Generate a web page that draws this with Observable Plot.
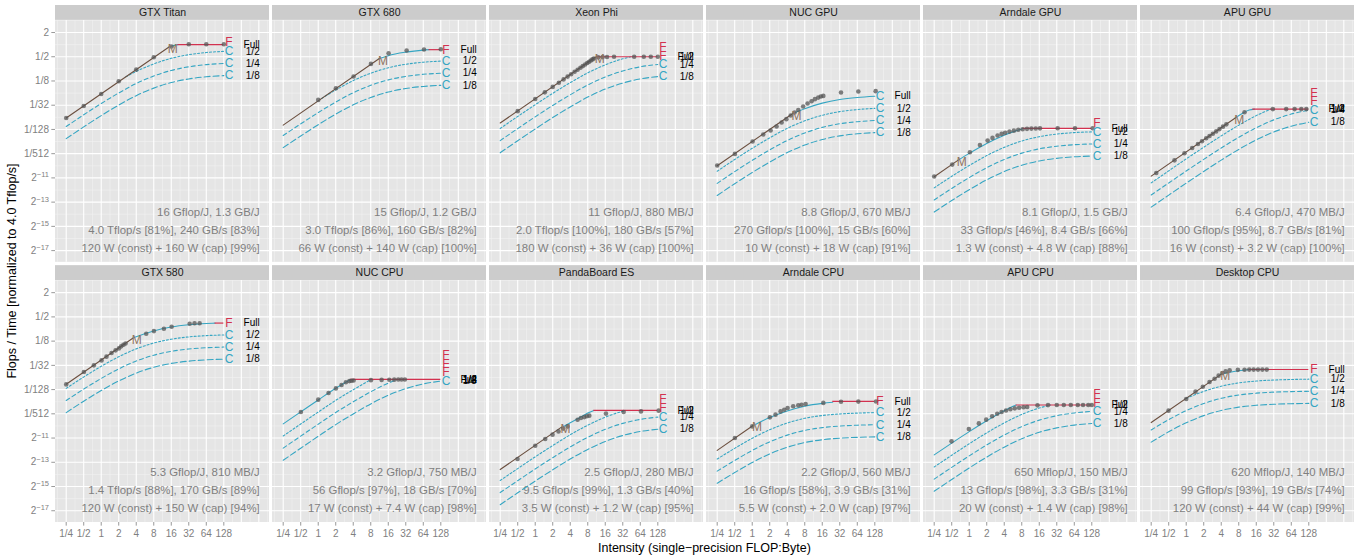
<!DOCTYPE html>
<html><head><meta charset="utf-8">
<script src="https://cdn.jsdelivr.net/npm/d3@7"></script>
<script src="https://cdn.jsdelivr.net/npm/@observablehq/plot@0.6"></script>
<style>
html,body{margin:0;padding:0;background:#fff;}
#chart{width:1357px;height:558px;}
</style></head><body><div id="chart"></div>
<script>
// ---------------- data ----------------
const platforms = ["GTX Titan","GTX 680","Xeon Phi","NUC GPU","Arndale GPU","APU GPU",
                   "GTX 580","NUC CPU","PandaBoard ES","Arndale CPU","APU CPU","Desktop CPU"];
const capLevels = ["Full","1/2","1/4","1/8"];
const xTickValues = [-2,-1,0,1,2,3,4,5,6,7];           // log2 intensity
const xTickLabels = ["1/4","1/2","1","2","4","8","16","32","64","128"];
const yTickValues = [1,-1,-3,-5,-7,-9,-11,-13,-15,-17]; // log2 normalized perf
const yTickLabels = ["2","1/2","1/8","1/32","1/128","1/512","2\u207B\u00B9\u00B9","2\u207B\u00B9\u00B3","2\u207B\u00B9\u2075","2\u207B\u00B9\u2077"];

// log2 of peak (normalized to 4.0 Tflop/s) and roofline level at intensity 1
const peakLog2      = [0,-0.415,-1,-3.89,-6.92,-5.32,-1.51,-6.16,-8.72,-7.97,-8.27,-5.34];
const bandwidthLog2 = [-4.06,-4.64,-4.47,-8.0,-8.9,-8.85,-4.56,-7.8,-11.6,-10.02,-10.24,-7.72];
// where the full-power curve leaves the memory roof / reaches the flop roof (log2 intensity)
const memoryEnd = [3.85,3.47,3.45,2.3,-0.65,2.8,1.8,null,1.5,0.05,null,2.0];
const flopStart = [4.38,6.33,3.5,null,3.07,3.8,6.5,1.84,3.35,4.6,2.68,3.6];

// power-capped (cyan) segments, [log2 intensity, log2 perf]
const capFull = [
 [[3.85,-0.21],[4.1,-0.09],[4.38,0]],
 [[3.47,-1.17],[4,-0.91],[5,-0.62],[6,-0.45],[6.33,-0.415]],
 [],
 [[2.3,-5.7],[3,-5.29],[4,-4.83],[5,-4.53],[6,-4.36],[7,-4.26]],
 [[-0.65,-9.55],[0,-8.975],[1,-8.16],[2,-7.48],[3,-6.955],[3.07,-6.92]],
 [[2.8,-6.05],[3.2,-5.68],[3.6,-5.4],[3.9,-5.32]],
 [[1.8,-2.76],[2,-2.64],[3,-2.16],[4,-1.84],[5,-1.65],[6,-1.544],[6.5,-1.51]],
 [[-2,-9.83],[-1,-8.84],[0,-7.855],[1,-6.89],[1.5,-6.46],[1.84,-6.16]],
 [[1.5,-10.15],[2,-9.73],[2.5,-9.35],[3,-8.94],[3.35,-8.72]],
 [[0.05,-9.98],[1,-9.31],[2,-8.76],[3,-8.37],[4,-8.14],[4.6,-8.05]],
 [[-2,-12.39],[-1,-11.42],[0,-10.47],[1,-9.57],[2,-8.75],[2.5,-8.37],[2.68,-8.27]],
 [[2,-5.72],[2.5,-5.567],[3,-5.45],[3.6,-5.34]]
];
const capHalf = [
 [[1.4,-2.66],[2,-2.21],[3,-1.59],[4,-1.13],[5,-0.83],[6,-0.65],[7,-0.555]],
 [[0.2,-4.44],[1,-3.74],[2,-2.97],[3,-2.36],[4,-1.91],[5,-1.62],[6,-1.45],[7,-1.36]],
 [[-2,-6.92],[-1,-5.93],[0,-4.96],[1,-4.02],[2,-3.14],[3,-2.33],[4,-1.67],[5,-1.17],[5.47,-1.0]],
 [[-2,-10.45],[-1,-9.48],[0,-8.555],[1,-7.69],[2,-6.91],[3,-6.29],[4,-5.83],[5,-5.53],[6,-5.36],[7,-5.26]],
 [[-2,-11.82],[-1,-10.87],[0,-9.975],[1,-9.16],[2,-8.48],[3,-7.955],[4,-7.6],[5,-7.385],[6,-7.26],[7,-7.2]],
 [[-2,-11.41],[-1,-10.42],[0,-9.43],[1,-8.47],[2,-7.53],[3,-6.65],[4,-5.86],[4.83,-5.32]],
 [[-2,-6.9],[-1,-5.96],[0,-5.08],[1,-4.29],[2,-3.64],[3,-3.16],[4,-2.84],[5,-2.65],[6,-2.544],[7,-2.49]],
 [[-2,-10.83],[-1,-9.84],[0,-8.855],[1,-7.89],[2,-7.01],[2.5,-6.59],[3.03,-6.16]],
 [[-2,-14.5],[-1,-13.52],[0,-12.55],[1,-11.62],[2,-10.73],[3,-9.94],[4,-9.28],[5,-8.79],[5.18,-8.72]],
 [[-2,-12.73],[-1,-11.85],[0,-11.02],[1,-10.31],[2,-9.76],[3,-9.37],[4,-9.14],[5,-9.01],[6,-8.94],[7,-8.9]],
 [[-2,-13.39],[-1,-12.42],[0,-11.47],[1,-10.57],[2,-9.75],[3,-9.055],[4,-8.52],[4.65,-8.27]],
 [[0,-7.73],[1,-7.15],[2,-6.72],[3,-6.45],[4,-6.295],[5,-6.21],[6,-6.166],[7,-6.14]]
];
const capQuarter = [
 [[-2,-6.76],[-1,-5.79],[0,-4.86],[1,-3.99],[2,-3.21],[3,-2.59],[4,-2.13],[5,-1.83],[6,-1.65],[7,-1.555]],
 [[-2,-7.5],[-1,-6.54],[0,-5.61],[1,-4.74],[2,-3.97],[3,-3.36],[4,-2.91],[5,-2.62],[6,-2.45],[7,-2.36]],
 [[-2,-7.92],[-1,-6.93],[0,-5.96],[1,-5.02],[2,-4.14],[3,-3.33],[4,-2.67],[5,-2.17],[6,-1.83],[7,-1.635]],
 [[-2,-11.45],[-1,-10.48],[0,-9.555],[1,-8.69],[2,-7.91],[3,-7.29],[4,-6.83],[5,-6.53],[6,-6.36],[7,-6.26]],
 [[-2,-12.82],[-1,-11.87],[0,-10.975],[1,-10.16],[2,-9.48],[3,-8.955],[4,-8.6],[5,-8.385],[6,-8.26],[7,-8.2]],
 [[-2,-12.41],[-1,-11.42],[0,-10.43],[1,-9.47],[2,-8.53],[3,-7.65],[4,-6.86],[5,-6.21],[6,-5.73],[7,-5.41]],
 [[-2,-7.9],[-1,-6.96],[0,-6.08],[1,-5.29],[2,-4.64],[3,-4.16],[4,-3.84],[5,-3.65],[6,-3.544],[7,-3.49]],
 [[-2,-11.83],[-1,-10.84],[0,-9.855],[1,-8.89],[2,-8.01],[3,-7.18],[4,-6.47],[4.52,-6.16]],
 [[-2,-15.5],[-1,-14.52],[0,-13.55],[1,-12.62],[2,-11.73],[3,-10.94],[4,-10.28],[5,-9.79],[6,-9.46],[7,-9.27]],
 [[-2,-13.73],[-1,-12.85],[0,-12.02],[1,-11.31],[2,-10.76],[3,-10.37],[4,-10.14],[5,-10.01],[6,-9.94],[7,-9.9]],
 [[-2,-14.39],[-1,-13.42],[0,-12.47],[1,-11.57],[2,-10.75],[3,-10.055],[4,-9.52],[5,-9.16],[6,-8.93],[7,-8.8]],
 [[-2,-10.335],[-1,-9.48],[0,-8.74],[1,-8.15],[2,-7.72],[3,-7.45],[4,-7.295],[5,-7.21],[6,-7.166],[7,-7.14]]
];
const capEighth = [
 [[-2,-7.76],[-1,-6.79],[0,-5.86],[1,-4.99],[2,-4.21],[3,-3.59],[4,-3.13],[5,-2.83],[6,-2.65],[7,-2.555]],
 [[-2,-8.5],[-1,-7.54],[0,-6.61],[1,-5.74],[2,-4.97],[3,-4.36],[4,-3.91],[5,-3.62],[6,-3.45],[7,-3.36]],
 [[-2,-8.92],[-1,-7.93],[0,-6.96],[1,-6.02],[2,-5.14],[3,-4.33],[4,-3.67],[5,-3.17],[6,-2.83],[7,-2.635]],
 [[-2,-12.45],[-1,-11.48],[0,-10.555],[1,-9.69],[2,-8.91],[3,-8.29],[4,-7.83],[5,-7.53],[6,-7.36],[7,-7.26]],
 [[-2,-13.82],[-1,-12.87],[0,-11.975],[1,-11.16],[2,-10.48],[3,-9.955],[4,-9.6],[5,-9.385],[6,-9.26],[7,-9.2]],
 [[-2,-13.41],[-1,-12.42],[0,-11.43],[1,-10.47],[2,-9.53],[3,-8.65],[4,-7.86],[5,-7.21],[6,-6.73],[7,-6.41]],
 [[-2,-8.9],[-1,-7.96],[0,-7.08],[1,-6.29],[2,-5.64],[3,-5.16],[4,-4.84],[5,-4.65],[6,-4.544],[7,-4.49]],
 [[-2,-12.83],[-1,-11.84],[0,-10.855],[1,-9.89],[2,-9.01],[3,-8.18],[4,-7.47],[5,-6.92],[6,-6.53],[7,-6.3]],
 [[-2,-16.5],[-1,-15.52],[0,-14.55],[1,-13.62],[2,-12.73],[3,-11.94],[4,-11.28],[5,-10.79],[6,-10.46],[7,-10.27]],
 [[-2,-14.73],[-1,-13.85],[0,-13.02],[1,-12.31],[2,-11.76],[3,-11.37],[4,-11.14],[5,-11.01],[6,-10.94],[7,-10.9]],
 [[-2,-15.39],[-1,-14.42],[0,-13.47],[1,-12.57],[2,-11.75],[3,-11.055],[4,-10.52],[5,-10.16],[6,-9.93],[7,-9.8]],
 [[-2,-11.335],[-1,-10.48],[0,-9.74],[1,-9.15],[2,-8.72],[3,-8.45],[4,-8.295],[5,-8.21],[6,-8.166],[7,-8.14]]
];

// measured points [log2 intensity, log2 perf]
const measuredPoints = [
 [[-2,-6.05],[-1,-5.06],[0,-4.07],[1,-3.02],[2,-2.06],[3,-1.04],[4.02,-0.16],[5,0.03],[6,0.03],[7,0.03]],
 [[0,-4.56],[1.01,-3.6],[2.02,-2.63],[3.01,-1.59],[4.02,-0.71],[5.05,-0.49],[6.04,-0.4],[7,-0.38]],
 [[-1,-5.49],[0,-4.49],[0.55,-3.94],[1,-3.49],[1.35,-3.14],[1.62,-2.87],[1.85,-2.64],[2.05,-2.44],[2.25,-2.24],[2.42,-2.07],[2.58,-1.91],[2.72,-1.77],[2.85,-1.64],[2.97,-1.52],[3.08,-1.41],[3.18,-1.31],[3.27,-1.22],[3.35,-1.14],[3.6,-1.05],[3.85,-1.03],[4.1,-1.02],[4.5,-1.0],[5.65,-1.0],[6.2,-1.0],[6.6,-1.0],[7.0,-1.0]],
 [[-2,-9.98],[-0.99,-9.02],[0.02,-8.0],[0.63,-7.42],[1.05,-7.09],[1.39,-6.76],[1.68,-6.43],[1.95,-6.15],[2.2,-5.85],[2.42,-5.6],[2.63,-5.39],[2.91,-5.11],[3.16,-4.86],[3.39,-4.67],[3.58,-4.5],[3.77,-4.37],[3.92,-4.28],[4.06,-4.23],[5.07,-3.95],[6.06,-3.87],[7.05,-3.84]],
 [[-2,-10.89],[-0.97,-9.9],[0.04,-8.88],[0.61,-8.28],[1.05,-7.92],[1.33,-7.7],[1.62,-7.5],[1.85,-7.37],[2.05,-7.27],[2.3,-7.18],[2.55,-7.1],[2.8,-7.03],[3.05,-6.98],[3.3,-6.95],[3.55,-6.93],[3.8,-6.92],[4.04,-6.91],[5.05,-6.9],[6.04,-6.9],[7.05,-6.9]],
 [[-1.71,-10.6],[-0.67,-9.55],[-0.1,-8.97],[0.34,-8.53],[0.67,-8.2],[0.9,-7.97],[1.14,-7.73],[1.33,-7.54],[1.52,-7.35],[1.71,-7.16],[1.9,-6.97],[2.1,-6.77],[2.29,-6.58],[3.33,-5.58],[4.95,-5.32],[5.71,-5.32],[6.19,-5.32],[6.57,-5.32],[6.86,-5.32]],
 [[-2,-6.57],[-0.99,-5.55],[-0.42,-5.0],[0.02,-4.59],[0.3,-4.28],[0.59,-3.98],[0.82,-3.76],[1.01,-3.6],[1.14,-3.43],[1.27,-3.3],[1.39,-3.2],[2.57,-2.39],[3.01,-2.17],[3.58,-1.98],[4.02,-1.81],[5.05,-1.56],[5.33,-1.53],[5.62,-1.53]],
 [[-0.99,-8.85],[0,-7.83],[0.59,-7.28],[1.01,-6.9],[1.33,-6.62],[1.58,-6.4],[1.78,-6.3],[1.9,-6.27],[2.02,-6.25],[3.01,-6.22],[3.62,-6.2],[4.06,-6.19],[4.34,-6.18],[4.57,-6.17],[4.76,-6.17],[4.95,-6.17]],
 [[-1.01,-12.73],[0,-11.63],[0.57,-11.08],[0.99,-10.72],[1.33,-10.45],[1.6,-10.22],[1.85,-10.04],[2.42,-9.49],[2.61,-9.35],[2.8,-9.27],[2.95,-9.2],[3.09,-9.15],[4.04,-8.98],[5.05,-8.85],[6.04,-8.8],[7.05,-8.74]],
 [[-0.99,-11.0],[0,-10.04],[1.01,-9.29],[1.33,-9.07],[1.62,-8.8],[1.83,-8.66],[2.02,-8.52],[2.34,-8.38],[2.63,-8.3],[2.82,-8.25],[3.05,-8.19],[4.06,-8.1],[5.07,-8.0],[6.06,-7.99],[7.07,-7.98]],
 [[-1.01,-11.27],[-0.02,-10.25],[0.55,-9.79],[0.97,-9.48],[1.31,-9.2],[1.6,-9.0],[1.85,-8.85],[2.1,-8.72],[2.35,-8.62],[2.6,-8.55],[2.85,-8.5],[3.1,-8.46],[3.31,-8.44],[3.9,-8.3],[4.5,-8.28],[5.0,-8.27],[5.4,-8.27],[5.8,-8.27],[6.2,-8.27],[6.5,-8.27],[6.8,-8.27],[7.0,-8.27]],
 [[-1.01,-8.74],[0,-7.78],[0.53,-7.17],[0.95,-6.76],[1.33,-6.37],[1.62,-6.1],[1.85,-5.85],[2.06,-5.63],[2.25,-5.5],[2.48,-5.41],[2.95,-5.37],[3.33,-5.36],[3.6,-5.35],[3.85,-5.35],[4.1,-5.35],[4.35,-5.35],[4.6,-5.35]]
];

const energyText = ["16 Gflop/J, 1.3 GB/J","15 Gflop/J, 1.2 GB/J","11 Gflop/J, 880 MB/J","8.8 Gflop/J, 670 MB/J","8.1 Gflop/J, 1.5 GB/J","6.4 Gflop/J, 470 MB/J","5.3 Gflop/J, 810 MB/J","3.2 Gflop/J, 750 MB/J","2.5 Gflop/J, 280 MB/J","2.2 Gflop/J, 560 MB/J","650 Mflop/J, 150 MB/J","620 Mflop/J, 140 MB/J"];
const peakText = ["4.0 Tflop/s [81%], 240 GB/s [83%]","3.0 Tflop/s [86%], 160 GB/s [82%]","2.0 Tflop/s [100%], 180 GB/s [57%]","270 Gflop/s [100%], 15 GB/s [60%]","33 Gflop/s [46%], 8.4 GB/s [66%]","100 Gflop/s [95%], 8.7 GB/s [81%]","1.4 Tflop/s [88%], 170 GB/s [89%]","56 Gflop/s [97%], 18 GB/s [70%]","9.5 Gflop/s [99%], 1.3 GB/s [40%]","16 Gflop/s [58%], 3.9 GB/s [31%]","13 Gflop/s [98%], 3.3 GB/s [31%]","99 Gflop/s [93%], 19 GB/s [74%]"];
const powerText = ["120 W (const) + 160 W (cap) [99%]","66 W (const) + 140 W (cap) [100%]","180 W (const) + 36 W (cap) [100%]","10 W (const) + 18 W (cap) [91%]","1.3 W (const) + 4.8 W (cap) [88%]","16 W (const) + 3.2 W (cap) [100%]","120 W (const) + 150 W (cap) [94%]","17 W (const) + 7.4 W (cap) [98%]","3.5 W (const) + 1.2 W (cap) [95%]","5.5 W (const) + 2.0 W (cap) [97%]","20 W (const) + 1.4 W (cap) [98%]","120 W (const) + 44 W (cap) [99%]"];

// ---------------- layout / style ----------------
const XMIN = -2.611, XMAX = 9.61, YMIN = -17.97, YPANEL = 2, YMAX = 3.23;
const CYAN = "#36A6C3", RED = "#D3314F", BROWN = "#6B4F3F", MBROWN = "#8E7361", GRAY = "#7F7F7F";
const dashes = [null, "2,2", "4,3", "6,3"];
const levelSets = [capFull, capHalf, capQuarter, capEighth];

const facetOf = i => ({col: i % 6, row: Math.floor(i / 6)});
const panels = platforms.map((name, i) => ({name, i, ...facetOf(i)}));
const perPanel = (vals, key) => panels.flatMap(p => vals.map(v => ({...p, [key]: v})));

const majorX = d3.range(-2, 10, 1), minorX = d3.range(-2.5, 10, 1);
const majorY = d3.range(-17, 2, 2), minorY = d3.range(-16, 3, 2);

const capRows = set => set.flatMap((seg, i) => seg.map(([x, v]) => ({...facetOf(i), id: i, x, v})));
const roofRows = panels.flatMap(p => memoryEnd[p.i] == null ? [] :
  [-2, memoryEnd[p.i]].map(x => ({...p, id: p.i, x, v: x + bandwidthLog2[p.i]})));
const peakRows = panels.filter(p => flopStart[p.i] != null)
  .map(p => ({...p, x1: flopStart[p.i], v: peakLog2[p.i]}));
const mRows = panels.filter(p => memoryEnd[p.i] != null)
  .map(p => ({...p, x: memoryEnd[p.i], v: memoryEnd[p.i] + bandwidthLog2[p.i]}));
const pointRows = panels.flatMap(p => measuredPoints[p.i].map(([x, v]) => ({...p, x, v})));

// end-of-curve labels
const endRows = [];
panels.forEach(p => {
  const ends = levelSets.map((set, k) => {
    const seg = set[p.i], last = seg[seg.length - 1];
    const isCap = !!last && last[0] >= 6.99;
    return {...p, level: capLevels[k], vEnd: isCap ? last[1] : peakLog2[p.i], letter: isCap ? "C" : "F"};
  });
  let prev = -Infinity;
  for (let k = 3; k >= 0; k--) {
    let v = ends[k].vEnd;
    if (v < prev + 0.72) v = prev + 0.72;
    prev = v;
    endRows.push({...ends[k], v});
  }
});

const yTickRows = [0, 1].flatMap(row => yTickValues.map((v, j) => ({col: 0, row, v, label: yTickLabels[j]})));
const xTickRows = d3.range(6).flatMap(col => xTickValues.map((x, j) => ({col, row: 1, x, label: xTickLabels[j]})));

const F = {fx: "col", fy: "row"};
const marks = [
  Plot.rect(panels, {...F, x1: () => XMIN, x2: () => XMAX, y1: () => YMIN, y2: () => YPANEL, fill: "#E5E5E5"}),
  Plot.rect(panels, {...F, x1: () => XMIN, x2: () => XMAX, y1: () => YPANEL, y2: () => YMAX, fill: "#CCCCCC"}),
  Plot.text(panels, {...F, x: () => (XMIN + XMAX) / 2, y: () => (YPANEL + YMAX) / 2, text: "name", fontSize: 10.5, fill: "#1A1A1A"}),
  Plot.ruleX(perPanel(minorX, "x"), {...F, x: "x", y1: () => YMIN, y2: () => YPANEL, stroke: "#F2F2F2", strokeWidth: 0.6}),
  Plot.ruleY(perPanel(minorY, "v"), {...F, y: "v", x1: () => XMIN, x2: () => XMAX, stroke: "#F2F2F2", strokeWidth: 0.6}),
  Plot.ruleX(perPanel(majorX, "x"), {...F, x: "x", y1: () => YMIN, y2: () => YPANEL, stroke: "#FFFFFF", strokeWidth: 1.1}),
  Plot.ruleY(perPanel(majorY, "v"), {...F, y: "v", x1: () => XMIN, x2: () => XMAX, stroke: "#FFFFFF", strokeWidth: 1.1}),
  Plot.text(panels, {...F, x: () => 9.05, y: () => -13.85, text: p => energyText[p.i], textAnchor: "end", fontSize: 11.4, fill: GRAY}),
  Plot.text(panels, {...F, x: () => 9.05, y: () => -15.3, text: p => peakText[p.i], textAnchor: "end", fontSize: 11.4, fill: GRAY}),
  Plot.text(panels, {...F, x: () => 9.05, y: () => -16.78, text: p => powerText[p.i], textAnchor: "end", fontSize: 11.4, fill: GRAY})
];
for (let k = 3; k >= 0; k--) {
  marks.push(Plot.line(capRows(levelSets[k]), {...F, x: "x", y: "v", z: "id", stroke: CYAN, strokeWidth: 1.1,
    strokeDasharray: dashes[k] || undefined, curve: "monotone-x"}));
}
marks.push(
  Plot.ruleY(peakRows, {...F, y: "v", x1: "x1", x2: () => 7, stroke: RED, strokeWidth: 1.2}),
  Plot.line(roofRows, {...F, x: "x", y: "v", z: "id", stroke: BROWN, strokeWidth: 1.1}),
  Plot.dot(pointRows, {...F, x: "x", y: "v", r: 2.3, fill: "#555555", fillOpacity: 0.75}),
  Plot.text(mRows, {...F, x: "x", y: "v", text: () => "M", textAnchor: "start", dx: -1, dy: 2, fontSize: 12, fill: MBROWN}),
  Plot.text(endRows.filter(d => d.letter === "F"), {...F, x: () => 7, y: "v", text: "letter", textAnchor: "start", dx: 1.5, fontSize: 12, fill: RED}),
  Plot.text(endRows.filter(d => d.letter === "C"), {...F, x: () => 7, y: "v", text: "letter", textAnchor: "start", dx: 1, fontSize: 12, fill: CYAN}),
  Plot.text(endRows, {...F, x: () => 9.05, y: "vEnd", text: "level", textAnchor: "end", fontSize: 10, fill: "#000000"}),
  Plot.ruleY(yTickRows, {...F, y: "v", x1: () => XMIN - 0.21, x2: () => XMIN, stroke: GRAY, strokeWidth: 0.8}),
  Plot.text(yTickRows, {...F, x: () => XMIN, y: "v", text: "label", textAnchor: "end", dx: -6.5, fontSize: 10, fill: GRAY}),
  Plot.ruleX(xTickRows, {...F, x: "x", y1: () => YMIN, y2: () => YMIN - 0.3, stroke: GRAY, strokeWidth: 0.8}),
  Plot.text(xTickRows, {...F, x: "x", y: () => YMIN, text: "label", dy: 11.6, fontSize: 10, fill: GRAY})
);

const svg = Plot.plot({
  width: 1357, height: 558,
  marginLeft: 55, marginRight: 3, marginTop: 5, marginBottom: 36,
  style: {fontFamily: "'Liberation Sans', Arial, Helvetica, sans-serif", background: "#FFFFFF"},
  fx: {domain: d3.range(6), paddingInner: 0.0138, paddingOuter: 0, round: false, axis: null},
  fy: {domain: [0, 1], paddingInner: 0.0127, paddingOuter: 0, round: false, axis: null},
  x: {domain: [XMIN, XMAX], axis: null},
  y: {domain: [YMIN, YMAX], axis: null},
  marks
});

const s = d3.select(svg);
// render power-of-two tick labels as base + raised exponent
const supMap = {"\u207B": "\u2212", "\u00B9": "1", "\u00B2": "2", "\u00B3": "3", "\u2074": "4", "\u2075": "5",
                "\u2076": "6", "\u2077": "7", "\u2078": "8", "\u2079": "9", "\u2070": "0"};
s.selectAll("text").each(function () {
  const t = this.textContent;
  if (/^2\u207B/.test(t)) {
    const exp = Array.from(t.slice(1)).map(c => supMap[c] || c).join("");
    const el = d3.select(this);
    el.text(null);
    el.append("tspan").text("2");
    el.append("tspan").attr("dy", "-0.5em").attr("font-size", "7.5px").text(exp);
  }
});
s.append("text").attr("x", 704.5).attr("y", 552).attr("text-anchor", "middle")
  .attr("font-size", 12.5).attr("fill", "#000").text("Intensity (single\u2212precision FLOP:Byte)");
s.append("text").attr("transform", "translate(16,271) rotate(-90)").attr("text-anchor", "middle")
  .attr("font-size", 12.5).attr("fill", "#000").text("Flops / Time [normalized to 4.0 Tflop/s]");

document.getElementById("chart").appendChild(svg);
</script></body></html>
